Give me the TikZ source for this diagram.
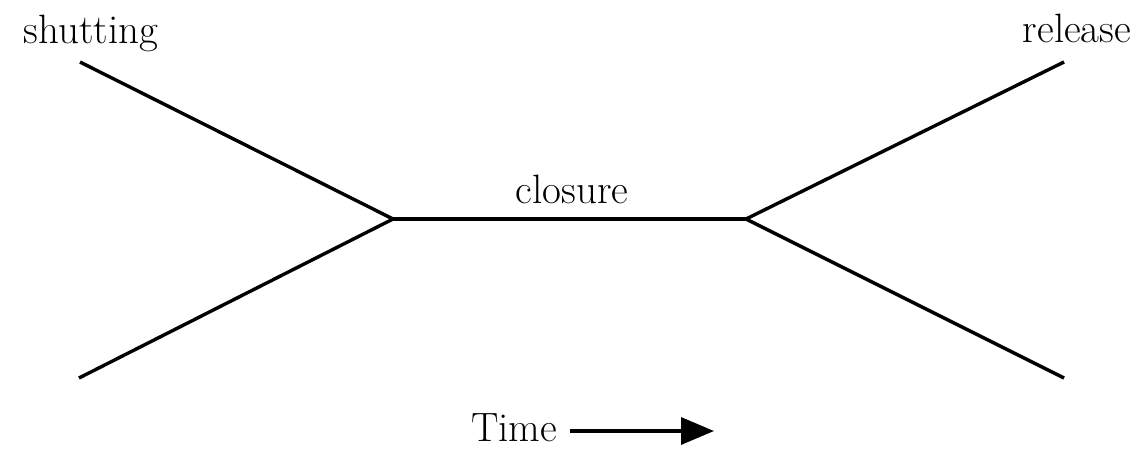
\documentclass[tikz,border=0pt]{standalone}
\usepackage{fontspec}
\usetikzlibrary{arrows.meta}
\begin{document}
\begin{tikzpicture}[x=1pt,y=-1pt,
  line/.style={line width=3.4pt},
  lbl/.style={font=\fontsize{41}{48}\selectfont, anchor=base, inner sep=0pt}]
\useasboundingbox (0,0) rectangle (1146,448);
\coordinate (lt) at (80,62);
\coordinate (lb) at (79,378);
\coordinate (jl) at (393,219);
\coordinate (jr) at (746,219);
\coordinate (rt) at (1064,62);
\coordinate (rb) at (1064,378);
\draw[line] (lt) -- (jl);
\draw[line] (lb) -- (jl);
\draw[line] (jl) -- (jr);
\draw[line] (jr) -- (rt);
\draw[line] (jr) -- (rb);
\node[lbl] (shut) at (91,43) {shutting};
\node[lbl] (rel) at (1077,42) {release};
\node[lbl] (clo) at (572,203) {closure};
\node[lbl] (time) at (514,441) {Time};
\coordinate (as) at (570,431);
\coordinate (ae) at (714,431);
\draw[line, -{Triangle[length=33pt,width=27pt]}] (as) -- (ae);
\end{tikzpicture}
\end{document}
